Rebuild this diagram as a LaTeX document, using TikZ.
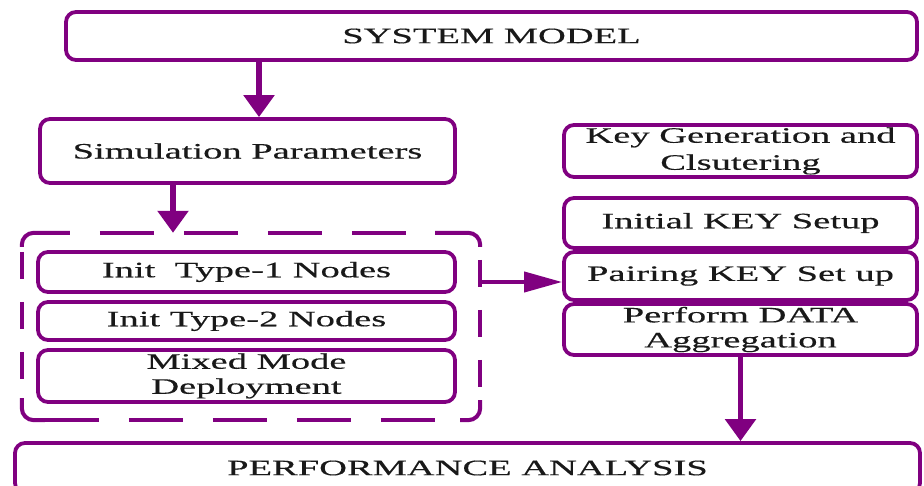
\documentclass[tikz,border=0pt]{standalone}
\usepackage{fontspec}
\setmainfont{Liberation Serif}[FakeStretch=1.75,FakeBold=0.4]
\usetikzlibrary{arrows.meta}
\definecolor{pur}{RGB}{128,0,128}
\definecolor{txt}{RGB}{25,25,25}
\begin{document}
\begin{tikzpicture}[x=1pt,y=1pt,
  box/.style={draw=pur, line width=3.8pt, rounded corners=10pt, inner sep=0pt,
    align=center, text=txt, font=\fontsize{22}{25}\selectfont},
  flow/.style={draw=pur, line width=5.5pt, -{Triangle[width=30pt,length=22pt]}},
  sideflow/.style={draw=pur, line width=4pt, -{Triangle[width=20pt,length=38pt]}},
  grpline/.style={draw=pur, line width=4pt},
  corner/.style={grpline, rounded corners=12pt}]
\useasboundingbox (0,0) rectangle (924,-486);
\fill[white] (0,0) rectangle (924,-486);
% boxes
\node[box, minimum width=851pt, minimum height=48pt] (sys) at (491.5,-36) {SYSTEM MODEL};
\node[box, minimum width=415pt, minimum height=64pt] (sim) at (247.5,-151) {Simulation Parameters};
\node[minimum width=458pt, minimum height=187pt, inner sep=0pt] (grp) at (251,-326.5) {};
\node[box, minimum width=417pt, minimum height=40pt] (t1) at (246.5,-272) {Init\ \ Type-1 Nodes};
\node[box, minimum width=417pt, minimum height=38pt] (t2) at (246.5,-321) {Init Type-2 Nodes};
\node[box, minimum width=417pt, minimum height=52pt] (mix) at (246.5,-376) {Mixed Mode\\Deployment};
\node[box, minimum width=353pt, minimum height=52pt, font=\fontsize{22}{27}\selectfont] (kg) at (740.5,-151) {Key Generation and\\Clsutering};
\node[box, minimum width=353pt, minimum height=50pt] (ik) at (740.5,-223) {Initial KEY Setup};
\node[box, minimum width=353pt, minimum height=48pt] (pk) at (740.5,-276) {Pairing KEY Set up};
\node[box, minimum width=353pt, minimum height=51pt] (pd) at (740.5,-329.5) {Perform DATA\\Aggregation};
\node[box, minimum width=905pt, minimum height=50pt] (perf) at (467.5,-468) {PERFORMANCE ANALYSIS};
% dashed group border
\draw[corner] ([yshift=-14pt]grp.north west) |- ([xshift=48pt]grp.north west);
\draw[corner] ([xshift=-45pt]grp.north east) -| ([yshift=-14pt]grp.north east);
\draw[corner] ([yshift=22pt]grp.south west) |- ([xshift=23pt]grp.south west);
\draw[corner] ([xshift=-20pt]grp.south east) -| ([yshift=20pt]grp.south east);
\draw[grpline, dash pattern=on 54pt off 30pt, dash phase=54pt] ([xshift=48pt]grp.north west) -- ([xshift=-45pt]grp.north east);
\draw[grpline, dash pattern=on 54pt off 30pt] ([xshift=23pt]grp.south west) -- ([xshift=-20pt]grp.south east);
\draw[grpline, dash pattern=on 27pt off 23pt, dash phase=45pt] ([yshift=-14pt]grp.north west) -- ([yshift=22pt]grp.south west);
\draw[grpline, dash pattern=on 27pt off 23pt, dash phase=37pt] ([yshift=-14pt]grp.north east) -- ([yshift=20pt]grp.south east);
% connectors
\draw[flow] (sys.south -| 259,0) -- (sim.north -| 259,0);
\draw[flow] (sim.south -| 173,0) -- (grp.north -| 173,0);
\coordinate (gout) at (grp.east |- 0,-282);
\draw[sideflow] (gout) -- (pk.west |- gout);
\draw[flow] (pd.south) -- (perf.north -| pd.south);
\end{tikzpicture}
\end{document}
